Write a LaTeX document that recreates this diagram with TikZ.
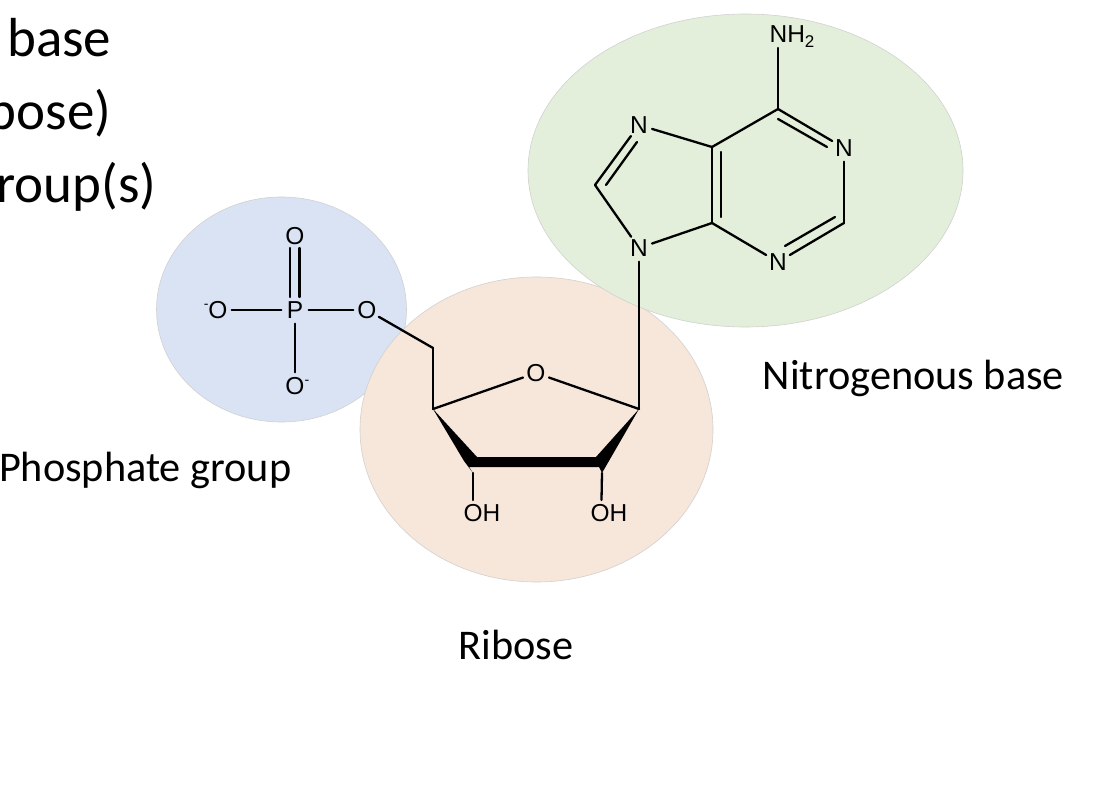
\documentclass[tikz,border=0pt]{standalone}
\usepackage{fontspec}
\setmainfont{Carlito}
\newfontfamily\chemfont{Liberation Sans}
\tikzset{
  lobe/.style={draw=black!18,line width=0.6pt},
  atom/.style={shape=circle,inner sep=0pt,minimum size=27pt,text=black,font=\chemfont\fontsize{24.5}{28}\selectfont},
  bond/.style={draw=black,line width=2.3pt,line cap=round,line join=round},
  bold/.style={fill=black},
  caption/.style={anchor=base,inner sep=0pt,text=black,font=\fontsize{42.3}{50}\selectfont},
  cut/.style={anchor=base east,inner sep=0pt,text=black,font=\fontsize{55}{66}\selectfont}
}
\definecolor{lobegreen}{HTML}{E3EFDA}
\definecolor{lobeorange}{HTML}{F7E6DA}
\definecolor{lobeblue}{HTML}{DAE3F3}
\newcommand{\chg}{\raisebox{0.42em}{\fontsize{14}{14}\selectfont -}}
\begin{document}
\begin{tikzpicture}[x=1pt,y=-1pt]
\useasboundingbox (0,0) rectangle (1106,786);
\clip (0,0) rectangle (1106,786);
\fill[white] (0,0) rectangle (1106,786);
% lobes
\draw[lobe,fill=lobeblue] (281.5,309.5) ellipse [x radius=125,y radius=112.5];
\draw[lobe,fill=lobeorange] (536.5,429.5) ellipse [x radius=176.5,y radius=152.5];
\draw[lobe,fill=lobegreen] (745.5,170.5) ellipse [x radius=217.5,y radius=156.5];
% cropped text
\node[cut] (t1) at (111.5,57) {base};
\node[cut] (t2) at (111.5,130) {bose)};
\node[cut] (t3) at (156.5,203) {roup(s)};
% captions
\node[caption] (capN) at (913.5,389.5) {Nitrogenous base};
\node[caption,anchor=base east] (capP) at (291.5,481.5) {Phosphate group};
\node[caption] (capR) at (516,659.5) {Ribose};
% atoms: base
\node[atom] (nh2) at (792,36.5) {NH\raisebox{-0.22em}{\fontsize{17}{17}\selectfont 2}};
\node[atom] (n1) at (844,148) {N};
\node[atom] (n3) at (778,262) {N};
\node[atom] (n7) at (639,125) {N};
\node[atom] (n9) at (639,248) {N};
\coordinate (nh2b) at (778,48);
\coordinate (c6) at (778,109);
\coordinate (c2) at (844,223);
\coordinate (c4) at (712,223);
\coordinate (c5) at (712,147);
\coordinate (c8) at (595,185);
\coordinate (i6a) at (778,119);
\coordinate (i6b) at (827,147);
\coordinate (i2a) at (835,217);
\coordinate (i2b) at (785,246);
\coordinate (i4a) at (721,152);
\coordinate (i4b) at (721,217);
\coordinate (i8a) at (637,142);
\coordinate (i8b) at (606,185);
% atoms: phosphate
\node[atom] (p) at (295,310) {P};
\node[atom] (otop) at (295,236) {O};
\node[atom] (oleft) at (218,310) {\llap{\chg}O};
\node[atom] (oright) at (367,310) {O};
\node[atom] (obot) at (295,386) {O\rlap{\chg}};
\coordinate (pa1) at (290,248);
\coordinate (pa2) at (290,297);
\coordinate (pb1) at (299.5,248);
\coordinate (pb2) at (299.5,297);
% atoms: ribose
\coordinate (c5r) at (433,348);
\coordinate (c4r) at (433,409);
\coordinate (c1r) at (639,409);
\coordinate (c3r) at (473,473);
\coordinate (c2r) at (602,473);
\node[atom] (or) at (536,373) {O};
\node[atom] (oh3) at (482,513.5) {OH};
\node[atom] (oh2) at (609,513.5) {OH};
\coordinate (oh3b) at (473,500);
\coordinate (oh2b) at (601.5,500);
% base bonds
\draw[bond] (nh2b) -- (c6);
\draw[bond] (c6) -- (n1);
\draw[bond] (i6a) -- (i6b);
\draw[bond] (n1) -- (c2);
\draw[bond] (c2) -- (n3);
\draw[bond] (i2a) -- (i2b);
\draw[bond] (n3) -- (c4);
\draw[bond] (c4) -- (c5);
\draw[bond] (i4a) -- (i4b);
\draw[bond] (c5) -- (c6);
\draw[bond] (c5) -- (n7);
\draw[bond] (n7) -- (c8);
\draw[bond] (i8a) -- (i8b);
\draw[bond] (c8) -- (n9);
\draw[bond] (n9) -- (c4);
\draw[bond] (n9) -- (c1r);
% phosphate bonds
\draw[bond] (pa1) -- (pa2);
\draw[bond] (pb1) -- (pb2);
\draw[bond] (oleft) -- (p);
\draw[bond] (p) -- (oright);
\draw[bond] (p) -- (obot);
\draw[bond] (oright) -- (c5r);
% ribose bonds
\draw[bond] (c5r) -- (c4r);
\draw[bond] (c4r) -- (or);
\draw[bond] (or) -- (c1r);
\draw[bond] (c3r) -- (oh3b);
\draw[bond] (c2r) -- (oh2b);
\fill[bold] (c4r) -- (477,457) -- (596,457) -- (c1r) -- (c2r) -- (599,467) -- (469,467) -- (c3r) -- (464,461) -- cycle;
\end{tikzpicture}
\end{document}
